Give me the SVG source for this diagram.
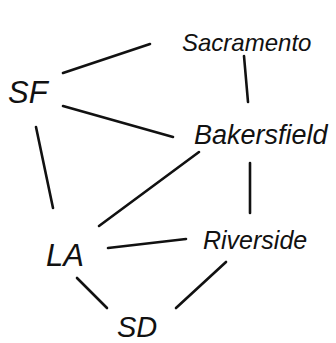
<svg xmlns="http://www.w3.org/2000/svg" width="336" height="343" viewBox="0 0 336 343">
<style>
.e{stroke:#111;stroke-width:2.6;stroke-linecap:round;fill:none}
.t{font-family:"Liberation Sans",Arial,sans-serif;font-style:italic;fill:#111;text-anchor:start}
</style>
<rect width="336" height="343" fill="#fff"/>
<g id="connectors">
<line class="e" x1="63" y1="73" x2="150" y2="44"/>
<line class="e" x1="244" y1="56" x2="248" y2="102"/>
<line class="e" x1="63" y1="106" x2="173" y2="137"/>
<line class="e" x1="36" y1="127" x2="53" y2="208"/>
<line class="e" x1="199" y1="152" x2="99" y2="226"/>
<line class="e" x1="250" y1="163" x2="250" y2="213"/>
<line class="e" x1="108" y1="248" x2="186" y2="239"/>
<line class="e" x1="77" y1="278" x2="107" y2="308"/>
<line class="e" x1="226" y1="262" x2="176" y2="308"/>
</g>
<g id="Sacramento"><text class="t" x="182" y="51" font-size="24">Sacramento</text></g>
<g id="SF"><text class="t" x="8" y="103" font-size="31">SF</text></g>
<g id="Bakersfield"><text class="t" x="194" y="144" font-size="27">Bakersfield</text></g>
<g id="LA"><text class="t" x="46" y="266" font-size="31">LA</text></g>
<g id="Riverside"><text class="t" x="203" y="249" font-size="25">Riverside</text></g>
<g id="SD"><text class="t" x="117" y="337" font-size="29">SD</text></g>
</svg>
